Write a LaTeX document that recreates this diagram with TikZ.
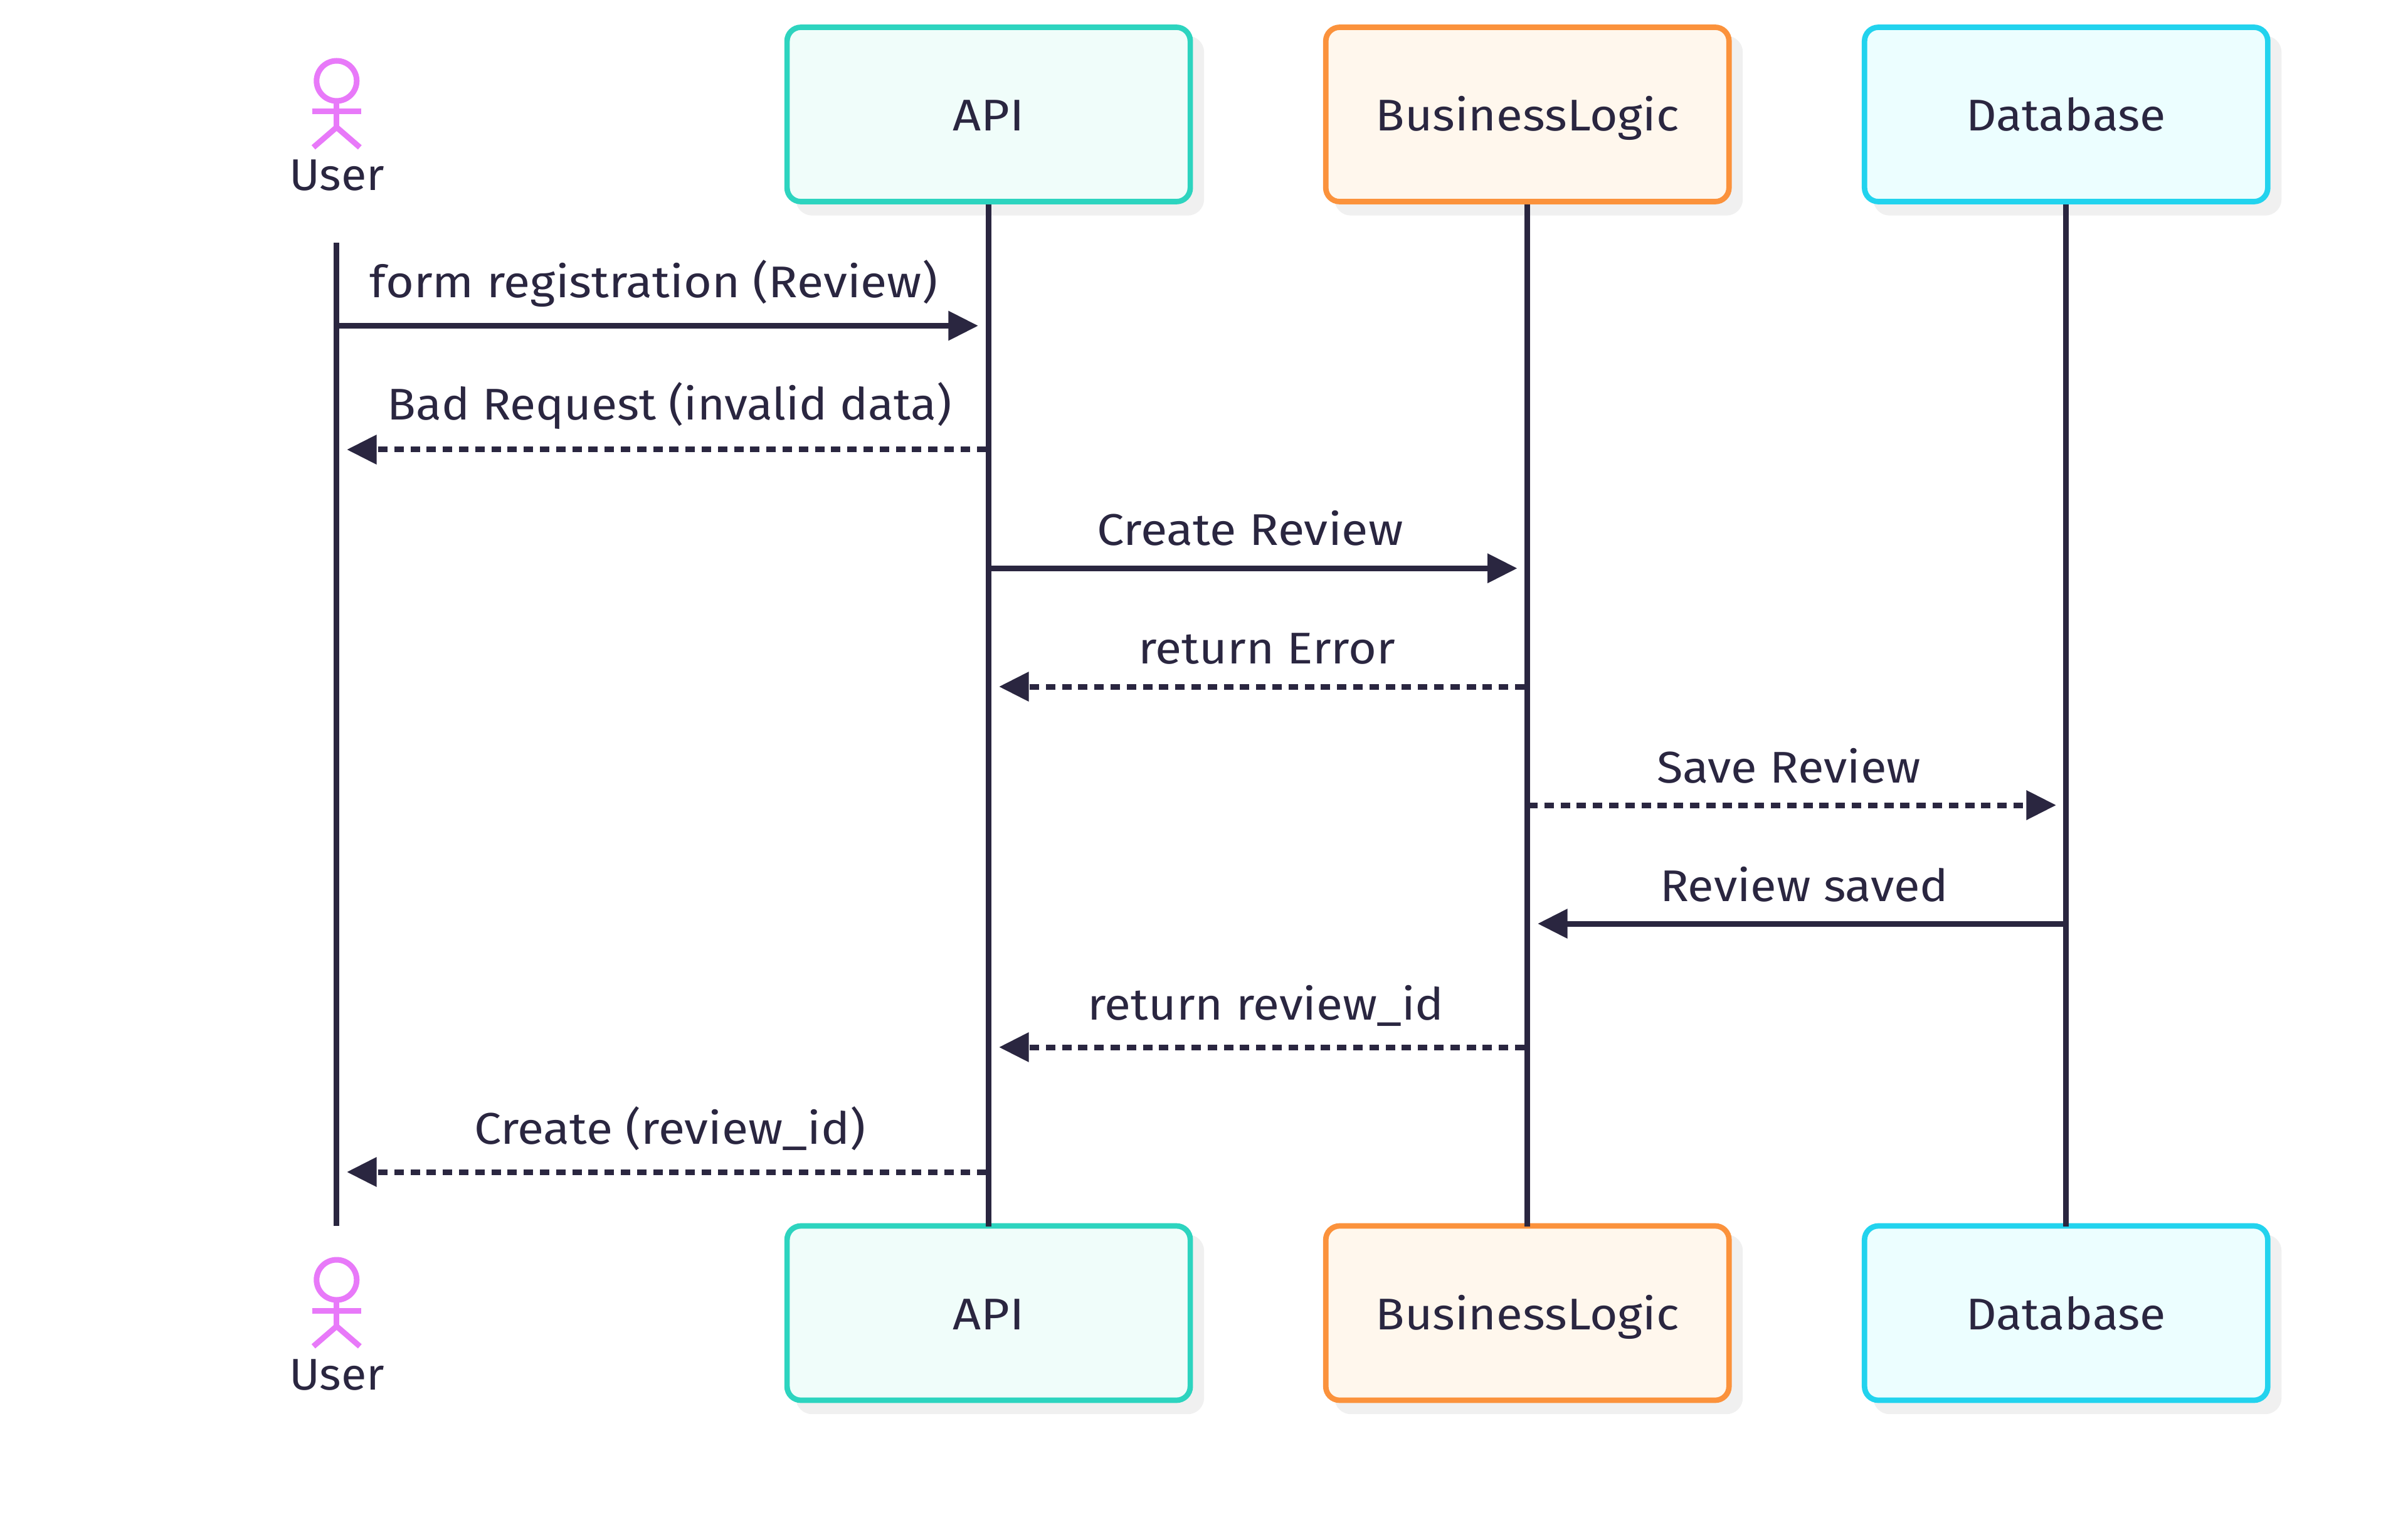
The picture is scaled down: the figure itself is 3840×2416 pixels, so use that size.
\documentclass[tikz,border=0pt]{standalone}
\usepackage{fontspec}
\usepackage{graphicx}
\setmainfont{Fira Sans}
\usetikzlibrary{arrows.meta}
\definecolor{ink}{HTML}{2A2640}
\definecolor{shadowgrey}{HTML}{F0F0F0}
\definecolor{tealline}{HTML}{2DD4BF}
\definecolor{tealfill}{HTML}{F0FDFA}
\definecolor{orangeline}{HTML}{FB923C}
\definecolor{orangefill}{HTML}{FFF7ED}
\definecolor{cyanline}{HTML}{22D3EE}
\definecolor{cyanfill}{HTML}{ECFEFF}
\definecolor{actorpink}{HTML}{E879F9}
\newcommand{\fitw}[2]{\resizebox{#1pt}{\height}{#2}}
\tikzset{
  lbl/.style={font=\fontsize{17.7}{20}\selectfont, text=ink, inner sep=0pt},
  msglabel/.style={lbl, anchor=base},
  partbox/.style={lbl, rectangle, rounded corners=5.5pt, line width=2.175pt,
    minimum width=160.75pt, minimum height=69.5pt,
    text height=16pt, text depth=3pt},
  tealbox/.style={partbox, draw=tealline, fill=tealfill},
  orangebox/.style={partbox, draw=orangeline, fill=orangefill},
  cyanbox/.style={partbox, draw=cyanline, fill=cyanfill},
  shadowbox/.style={rectangle, rounded corners=6.5pt, fill=shadowgrey,
    minimum width=162.75pt, minimum height=71.6pt, inner sep=0pt},
  lifeline/.style={draw=ink, line width=2.25pt},
  solidmsg/.style={draw=ink, line width=2.25pt,
    -{Triangle[length=11.9pt,width=11.3pt,fill=ink]}},
  dashmsg/.style={solidmsg, dash pattern=on 3.75pt off 2.7pt},
  actorfig/.pic={
    \draw[draw=actorpink, line width=2.25pt] (0,129) ellipse [x radius=32, y radius=32];
    \draw[draw=actorpink, line width=2.25pt] (-39,178) -- (39,178);
    \draw[draw=actorpink, line width=2.25pt] (0,161) -- (0,203);
    \draw[draw=actorpink, line width=2.25pt] (-37,235) -- (0,203) -- (37,235);
  }
}
\begin{document}
\begin{tikzpicture}[x=0.25pt,y=-0.25pt]
\useasboundingbox (0,0) rectangle (3840,2416);
\fill[white] (0,0) rectangle (3840,2416);

% named end points of the connectors
\coordinate (uTop) at (536.8,387);
\coordinate (uBot) at (536.8,1955);
\coordinate (m1a) at (536.8,519.5);  \coordinate (m1b) at (1560,519.5);
\coordinate (m2a) at (1572.5,717);   \coordinate (m2b) at (553,717);
\coordinate (m3a) at (1576.6,906.3); \coordinate (m3b) at (2419.6,906.3);
\coordinate (m4a) at (2431,1095);    \coordinate (m4b) at (1593,1095);
\coordinate (m5a) at (2437,1284);    \coordinate (m5b) at (3279,1284);
\coordinate (m6a) at (3294.8,1473);  \coordinate (m6b) at (2452,1473);
\coordinate (m7a) at (2431,1670);    \coordinate (m7b) at (1593,1670);
\coordinate (m8a) at (1572.5,1869);  \coordinate (m8b) at (553,1869);

% shadows
\node[shadowbox] (sa1) at (1594.6,200.5) {};
\node[shadowbox] (sb1) at (2453.7,200.5) {};
\node[shadowbox] (sd1) at (3312.8,200.5) {};
\node[shadowbox] (sa2) at (1594.6,2112) {};
\node[shadowbox] (sb2) at (2453.7,2112) {};
\node[shadowbox] (sd2) at (3312.8,2112) {};

% participant boxes
\node[tealbox]   (api1) at (1576.6,182.5) {\fitw{28.5}{API}};
\node[orangebox] (bl1)  at (2435.7,182.5) {\fitw{121}{BusinessLogic}};
\node[cyanbox]   (db1)  at (3294.8,182.5) {\fitw{79.5}{Database}};
\node[tealbox]   (api2) at (1576.6,2094) {\fitw{28.5}{API}};
\node[orangebox] (bl2)  at (2435.7,2094) {\fitw{121}{BusinessLogic}};
\node[cyanbox]   (db2)  at (3294.8,2094) {\fitw{79.5}{Database}};

% messages
\draw[solidmsg] (m1a) -- (m1b);
\draw[dashmsg]  (m2a) -- (m2b);
\draw[solidmsg] (m3a) -- (m3b);
\draw[dashmsg]  (m4a) -- (m4b);
\draw[dashmsg]  (m5a) -- (m5b);
\draw[solidmsg] (m6a) -- (m6b);
\draw[dashmsg]  (m7a) -- (m7b);
\draw[dashmsg]  (m8a) -- (m8b);

% lifelines
\draw[lifeline] (uTop) -- (uBot);
\draw[lifeline] (api1.south) -- ([yshift=-1.25pt]api2.north);
\draw[lifeline] (bl1.south) -- ([yshift=-1.25pt]bl2.north);
\draw[lifeline] (db1.south) -- ([yshift=-1.25pt]db2.north);

% actors
\pic at (536.8,0) {actorfig};
\pic at (536.8,1912) {actorfig};
\node[msglabel] (user1) at (537,304) {\fitw{38}{User}};
\node[msglabel] (user2) at (537,2216) {\fitw{38}{User}};

% message labels
\node[msglabel] (t1) at (1042.5,475) {\fitw{226.25}{form registration (Review)}};
\node[msglabel] (t2) at (1067.5,670) {\fitw{225}{Bad Request (invalid data)}};
\node[msglabel] (t3) at (1993.5,870) {\fitw{122}{Create Review}};
\node[msglabel] (t4) at (2020,1058) {\fitw{102.5}{return Error}};
\node[msglabel] (t5) at (2852.5,1248) {\fitw{105.25}{Save Review}};
\node[msglabel] (t6) at (2877,1437) {\fitw{115}{Review saved}};
\node[msglabel] (t7) at (2018.5,1626) {\fitw{142}{return review\_id}};
\node[msglabel] (t8) at (1068,1824) {\fitw{156}{Create (review\_id)}};
\end{tikzpicture}
\end{document}
